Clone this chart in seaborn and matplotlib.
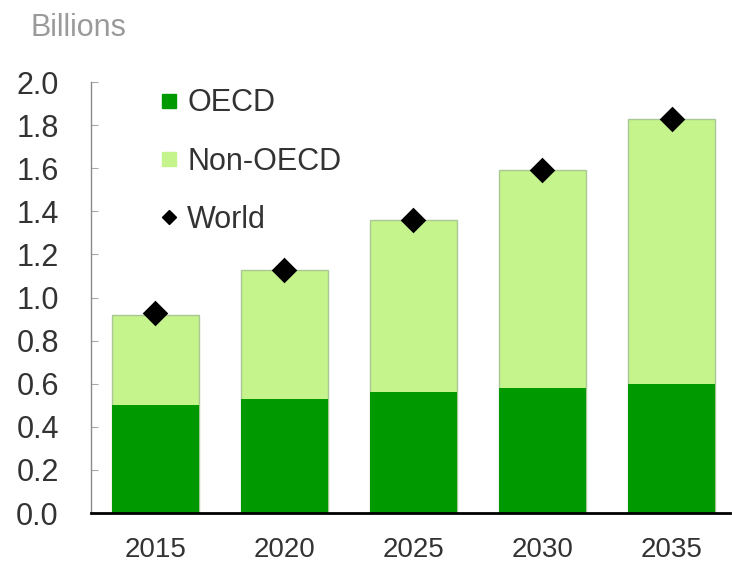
import matplotlib
matplotlib.use("Agg")
import matplotlib.pyplot as plt
import seaborn as sns
import pandas as pd
from matplotlib.lines import Line2D

years = ["2015", "2020", "2025", "2030", "2035"]
oecd = [0.50, 0.53, 0.56, 0.58, 0.60]
non_oecd = [0.42, 0.60, 0.80, 1.01, 1.23]
world = [0.93, 1.13, 1.36, 1.59, 1.83]
yticks = [0.0, 0.2, 0.4, 0.6, 0.8, 1.0, 1.2, 1.4, 1.6, 1.8, 2.0]

sns.set_theme(style="white")
plt.rcParams['font.family'] = ['Liberation Sans', 'DejaVu Sans']

df = pd.DataFrame({"year": years, "oecd": oecd, "non": non_oecd, "world": world})
df["total"] = df["oecd"] + df["non"]

dark = "#009A00"
light = "#C6F48C"

fig = plt.figure(figsize=(7.32, 5.67), dpi=100)
ax = fig.add_axes([0.124, 0.0952, 0.8727, 0.760])

sns.barplot(data=df, x="year", y="total", order=years, color=light, width=0.675,
            edgecolor="#A9C896", linewidth=1.0, saturation=1, ax=ax)
sns.barplot(data=df, x="year", y="oecd", order=years, color=dark, width=0.675,
            linewidth=0, saturation=1, ax=ax)
sns.scatterplot(data=df, x="year", y="world", marker="D", color="black", s=170,
                edgecolor="black", linewidth=0, ax=ax, zorder=5)

ax.set_xlim(-0.5, 4.45)
ax.set_ylim(0, 2.0)
ax.set_yticks(yticks)
ax.set_yticklabels([f"{v:.1f}" for v in yticks])
ax.set_xlabel("")
ax.set_ylabel("")

for s in ["top", "right"]:
    ax.spines[s].set_visible(False)
ax.spines["left"].set_color("#8a8a8a")
ax.spines["left"].set_linewidth(1.0)
ax.spines["bottom"].set_color("black")
ax.spines["bottom"].set_linewidth(2.0)

ax.tick_params(axis="y", direction="in", length=5, width=0.8, color="#aaaaaa",
               labelsize=22, labelcolor="#333333", pad=23, left=True)
ax.tick_params(axis="x", length=0, labelsize=20, labelcolor="#333333", pad=17)

fig.text(0.041, 0.950, "Billions", fontsize=22, color="#9a9a9a", va="center", ha="left")

handles = [
    Line2D([], [], marker="s", linestyle="none", color=dark, markersize=10.5),
    Line2D([], [], marker="s", linestyle="none", color=light, markersize=10.5),
    Line2D([], [], marker="D", linestyle="none", color="black", markersize=7),
]
ax.legend(handles, ["OECD", "Non-OECD", "World"], loc="upper left",
          bbox_to_anchor=(0.084, 1.021), frameon=False, fontsize=22,
          labelspacing=0.93, handlelength=0.6, handletextpad=0.3, borderpad=0,
          labelcolor="#333333")

fig.savefig("out.png", dpi=100)
